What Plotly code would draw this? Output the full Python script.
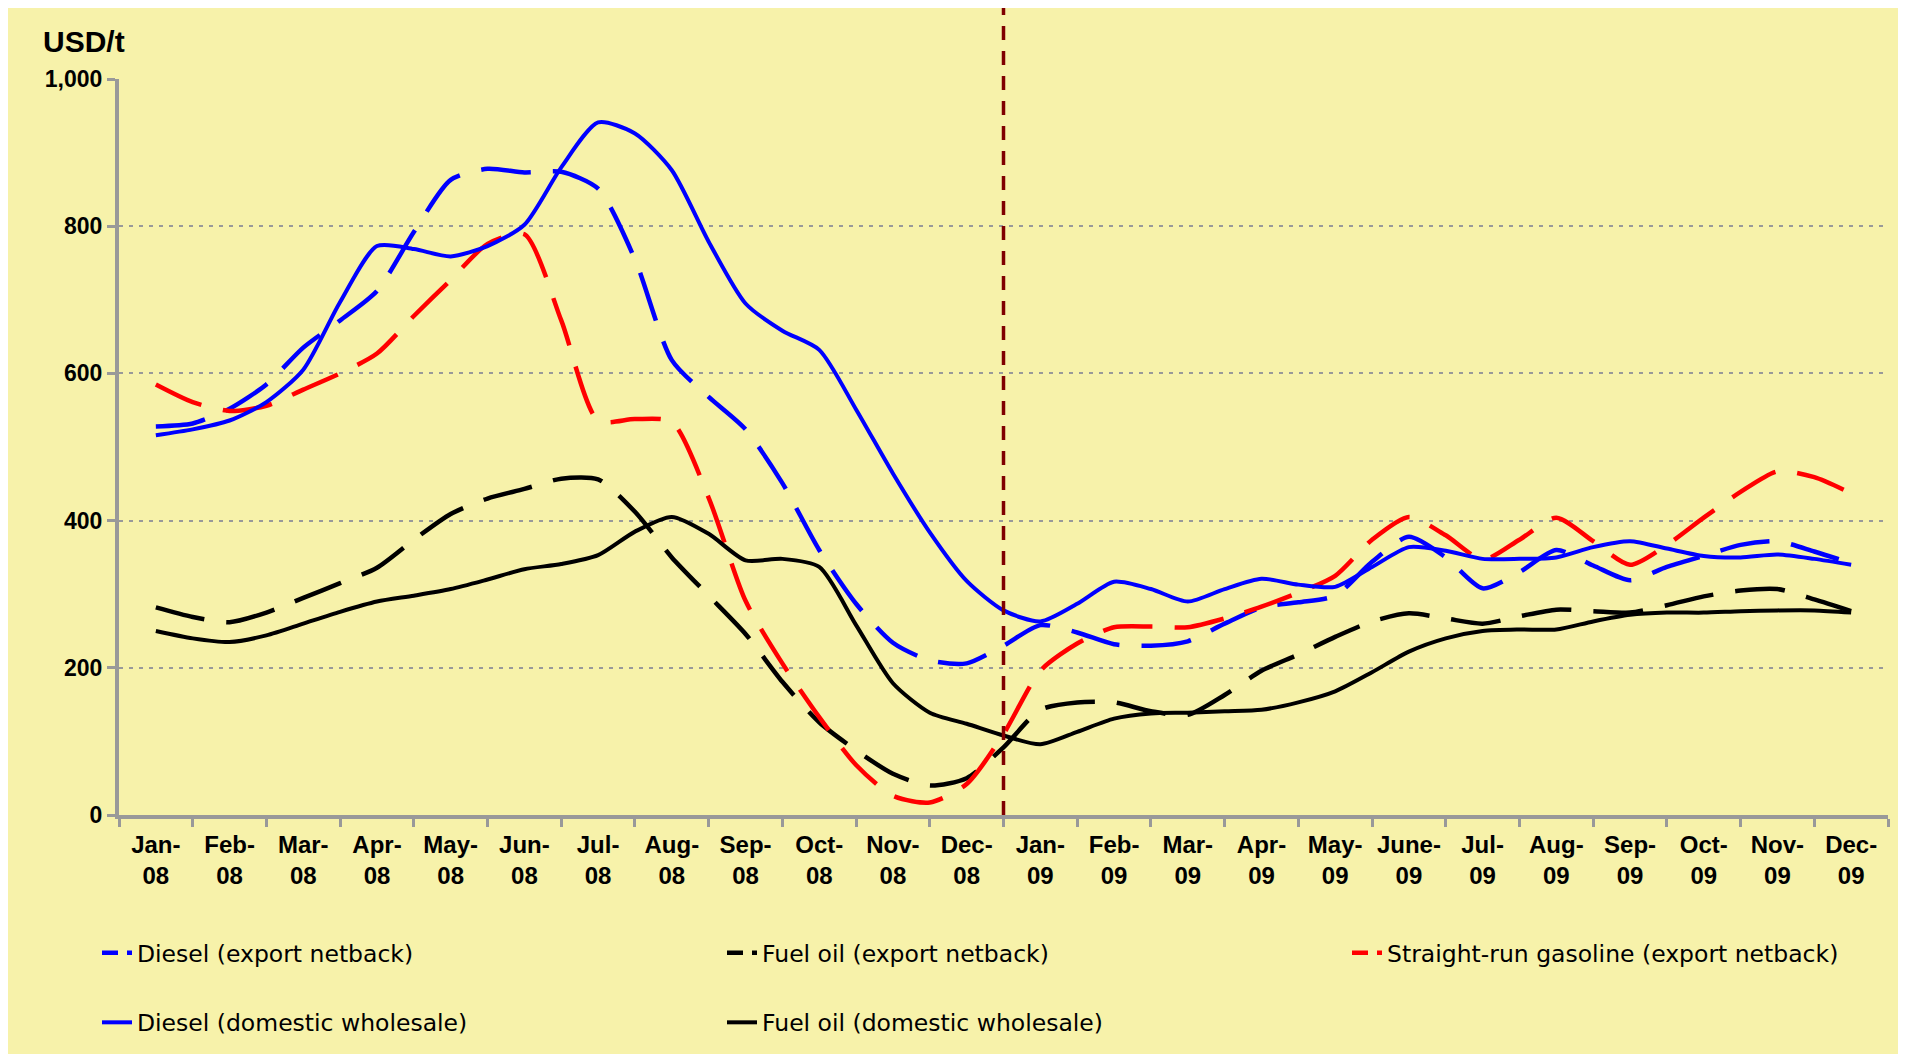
import plotly.graph_objects as go

# ---------------- data (USD/t), sampled every half month ----------------
# position 0 = Jan-08, 23 = Dec-09 (category centres), step 0.5 month
half_month = [i / 2 for i in range(47)]

month_labels = ["Jan-<br>08", "Feb-<br>08", "Mar-<br>08", "Apr-<br>08", "May-<br>08", "Jun-<br>08",
                "Jul-<br>08", "Aug-<br>08", "Sep-<br>08", "Oct-<br>08", "Nov-<br>08", "Dec-<br>08",
                "Jan-<br>09", "Feb-<br>09", "Mar-<br>09", "Apr-<br>09", "May-<br>09", "June-<br>09",
                "Jul-<br>09", "Aug-<br>09", "Sep-<br>09", "Oct-<br>09", "Nov-<br>09", "Dec-<br>09"]

diesel_export = [528, 532, 552, 585, 635, 672, 712, 792, 863, 878, 873, 874, 851, 755, 618, 568,
                 524, 451, 360, 287, 234, 210, 206, 230, 258, 248, 232, 230, 236, 260, 282, 289,
                 298, 344, 378, 350, 308, 330, 360, 339, 319, 337, 352, 367, 372, 358, 342]
fueloil_export = [282, 269, 262, 275, 295, 315, 336, 374, 409, 430, 443, 457, 456, 412, 350, 298,
                  246, 181, 126, 88, 56, 40, 50, 92, 143, 153, 153, 141, 136, 163, 196, 218,
                  242, 263, 274, 267, 260, 270, 279, 277, 275, 285, 297, 305, 307, 293, 277]
gasoline_export = [585, 561, 549, 556, 578, 600, 627, 678, 727, 776, 789, 672, 536, 538, 534, 431,
                   291, 206, 133, 68, 26, 17, 42, 110, 196, 233, 255, 256, 255, 267, 283, 302,
                   325, 374, 405, 380, 347, 374, 404, 372, 340, 367, 404, 439, 467, 459, 437]
diesel_domestic = [516, 524, 536, 561, 605, 697, 773, 769, 759, 773, 802, 880, 941, 926, 876, 779,
                   695, 658, 632, 551, 464, 384, 318, 278, 263, 287, 317, 307, 290, 307, 321, 313,
                   310, 337, 364, 359, 348, 348, 350, 364, 372, 362, 352, 350, 354, 348, 340]
fueloil_domestic = [250, 240, 235, 244, 260, 276, 290, 298, 307, 320, 334, 341, 353, 385, 405, 382,
                    346, 348, 337, 258, 179, 139, 124, 108, 96, 113, 131, 138, 139, 141, 143, 153,
                    168, 194, 222, 240, 250, 252, 252, 263, 272, 275, 275, 277, 278, 278, 275]

y_ticks = [0, 200, 400, 600, 800, 1000]
year_break = 11.5  # boundary between Dec-08 and Jan-09

# ---------------- styling ----------------
W, H = 1906, 1054
OFF = 8  # page offset of the figure (default body margin)
ML, MR, MT, MB = 111, 26, 71, 247
PW, PH = W - ML - MR, H - MT - MB
BG = "#F7F2AA"
GREY = "#999999"
BLUE, RED, BLACK = "#0000FF", "#FF0000", "#000000"
DASH = "50px,22px"
LEG_DASH = "16px,9px,5px,200px"


def px_x(page_px):
    return (page_px - OFF - ML) / PW


def px_y(page_px):
    return (H - MB - (page_px - OFF)) / PH


series = [
    ("Diesel (export netback)", diesel_export, BLUE, DASH, "legend", "g1"),
    ("Fuel oil (export netback)", fueloil_export, BLACK, DASH, "legend2", "g2"),
    ("Straight-run gasoline (export netback)", gasoline_export, RED, DASH, "legend3", "g3"),
    ("Diesel (domestic wholesale)", diesel_domestic, BLUE, "solid", "legend", "g4"),
    ("Fuel oil (domestic wholesale)", fueloil_domestic, BLACK, "solid", "legend2", "g5"),
]

fig = go.Figure()
for name, vals, col, dash, leg, grp in series:
    fig.add_trace(go.Scatter(
        x=half_month, y=vals, mode="lines", name=name,
        line=dict(color=col, width=4.5 if dash != "solid" else 4, dash=dash,
                  shape="spline", smoothing=0.7),
        legend=leg, legendgroup=grp, showlegend=False, hoverinfo="skip"))

for name, vals, col, dash, leg, grp in series:
    fig.add_trace(go.Scatter(
        x=[None], y=[None], mode="lines", name=name,
        line=dict(color=col, width=4.5 if dash != "solid" else 4,
                  dash=LEG_DASH if dash != "solid" else "solid"),
        legend=leg, legendgroup=grp, showlegend=True))

leg_font = dict(family="DejaVu Sans", size=23.5, color="#000000")
leg_common = dict(orientation="v", xanchor="left", yanchor="top", bgcolor="rgba(0,0,0,0)",
                  font=leg_font, tracegroupgap=36, traceorder="grouped")
leg_top = px_y(931)

tick_font = dict(family="Liberation Sans", size=24, color="#000000", weight="bold")

fig.update_layout(
    width=W, height=H,
    margin=dict(l=ML, r=MR, t=MT, b=MB, pad=0),
    paper_bgcolor=BG, plot_bgcolor=BG,
    legend=dict(x=px_x(97), y=leg_top, **leg_common),
    legend2=dict(x=px_x(722), y=leg_top, **leg_common),
    legend3=dict(x=px_x(1347), y=leg_top, **leg_common),
    xaxis=dict(
        range=[-0.5, 23.5], tickmode="array", tickvals=list(range(24)), ticktext=month_labels,
        ticks="", showgrid=False, zeroline=False,
        showline=True, linecolor=GREY, linewidth=4,
        tickfont=tick_font,
        ticklabelstandoff=5,
        minor=dict(tickmode="array", tickvals=[k - 0.5 for k in range(25)], ticks="outside",
                   ticklen=8, tickwidth=3, tickcolor=GREY, showgrid=False),
    ),
    yaxis=dict(
        range=[0, 1000], tickmode="array", tickvals=y_ticks, tickformat=",d",
        ticks="outside", ticklen=8, tickwidth=3, tickcolor=GREY,
        showline=True, linecolor=GREY, linewidth=4, zeroline=False,
        showgrid=True, gridcolor=GREY, gridwidth=2, griddash="4px,6px",
        tickfont=dict(family="Liberation Sans", size=23, color="#000000", weight="bold"),
        ticklabelstandoff=0,
    ),
    showlegend=True,
)

# vertical year separator
fig.add_shape(type="line", xref="x", yref="paper", x0=year_break, x1=year_break,
              y0=0, y1=px_y(OFF), line=dict(color="#800000", width=3.5, dash="14px,11px"),
              layer="above")

fig.add_annotation(text="<b>USD/t</b>", xref="paper", yref="paper", x=px_x(41), y=px_y(60),
                   xanchor="left", yanchor="bottom", showarrow=False,
                   font=dict(family="Liberation Sans", size=30, color="#000000"))

fig.write_html("out.html")
